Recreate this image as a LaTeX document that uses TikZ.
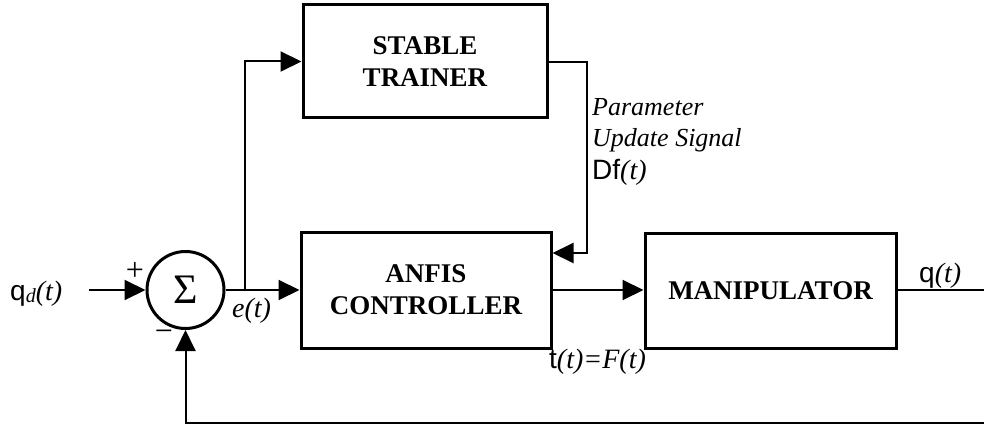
\documentclass[tikz,border=0pt]{standalone}
\usepackage{fontspec}
\setmainfont{Liberation Serif}
\newfontfamily\symsub{Liberation Sans}
\usetikzlibrary{arrows.meta}
\begin{document}
\begin{tikzpicture}[x=1pt, y=-1pt,
  block/.style={draw, line width=3pt, align=center, inner sep=0pt,
    font=\bfseries\fontsize{27}{32}\selectfont},
  conn/.style={line width=2pt},
  tip/.style={-{Triangle[length=21pt,width=20pt]}},
  lbl/.style={anchor=base west, inner sep=0pt, font=\fontsize{28}{28}\selectfont},
  note/.style={anchor=base west, inner sep=0pt, font=\itshape\fontsize{26}{26}\selectfont},
  sgn/.style={anchor=center, inner sep=0pt, font=\fontsize{32}{32}\selectfont}]
\useasboundingbox (0,0) rectangle (984,425);

% blocks
\node[block, minimum width=244pt, minimum height=113pt] (trainer) at (425,61.5) {STABLE\\TRAINER};
\node[block, minimum width=250pt, minimum height=116pt] (anfis) at (426,290) {ANFIS\\CONTROLLER};
\node[block, minimum width=251pt, minimum height=115pt] (manip) at (770.5,290.5) {MANIPULATOR};

% summing junction
\node[circle, draw, line width=3pt, minimum size=77pt, inner sep=0pt,
  font=\fontsize{42}{42}\selectfont] (sum) at (185.5,290) {Σ};

% connection points
\coordinate (in) at (89,290);
\coordinate (br) at (245,290);
\coordinate (pu) at (587,62);
\coordinate (pd) at (587,253);
\coordinate (out) at (984,290);
\coordinate (fb) at (984,423);

% connectors
\draw[conn,tip] (in) -- (sum.west);
\draw[conn,tip] (sum.east) -- (anfis.west);
\draw[conn,tip] (br) |- (trainer.west);
\draw[conn,tip] (trainer.east |- pu) -- (pu) -- (pd) -- (anfis.east |- pd);
\draw[conn,tip] (anfis.east) -- (manip.west |- anfis.east);
\draw[conn] (manip.east |- out) -- (out);
\draw[conn,tip] (fb) -- (sum.south |- fb) -- (sum.south);

% signal labels
\node[lbl] (qd) at (10,300) {{\symsub q}\raisebox{-2pt}{\itshape\fontsize{20}{20}\selectfont d}\textit{(t)}};
\node[sgn] (plus) at (135,271) {+};
\node[sgn] (minus) at (164,336) {−};
\node[lbl] (err) at (232,317) {\textit{e(t)}};
\node[note] (p1) at (592,115) {Parameter};
\node[note] (p2) at (592,146) {Update Signal};
\node[lbl] (p3) at (592,179) {{\symsub Df}\textit{(t)}};
\node[lbl] (tau) at (549,368) {{\symsub t}\textit{(t)=F(t)}};
\node[lbl] (q) at (919,282) {{\symsub q}\textit{(t)}};
\end{tikzpicture}
\end{document}
